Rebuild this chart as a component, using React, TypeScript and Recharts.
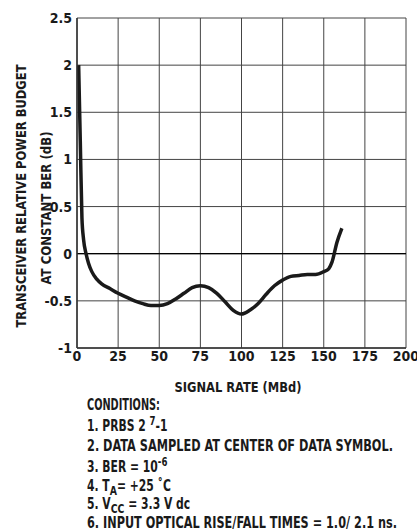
import { LineChart, Line, XAxis, YAxis, CartesianGrid, ReferenceLine } from "recharts";

const signalRate = [1, 2, 3, 4, 5.5, 7, 9, 12, 15, 20, 25, 30, 35, 40, 45, 50, 55, 60, 65, 70, 75, 80, 85, 90, 95, 100, 105, 110, 115, 120, 125, 130, 135, 140, 145, 150, 153, 155, 158, 161];
const powerBudget = [2.0, 1.19, 0.38, 0.15, 0.0, -0.1, -0.19, -0.27, -0.32, -0.37, -0.42, -0.46, -0.5, -0.53, -0.55, -0.55, -0.53, -0.48, -0.42, -0.36, -0.34, -0.36, -0.42, -0.51, -0.6, -0.64, -0.6, -0.53, -0.43, -0.34, -0.28, -0.24, -0.23, -0.22, -0.22, -0.19, -0.16, -0.09, 0.12, 0.27];
const xTicks = [0, 25, 50, 75, 100, 125, 150, 175, 200];
const yTicks = [-1, -0.5, 0, 0.5, 1, 1.5, 2, 2.5];

const data = signalRate.map((x, i) => ({ x, y: powerBudget[i] }));

const font = "'Liberation Sans Narrow', 'DejaVu Sans Condensed', 'Liberation Sans', sans-serif";
const tickStyle = { fontSize: 14, fontWeight: 700, fill: "#1a1a1a", fontFamily: font };
const sx = 0.8;

export default function App() {
  return (
    <div style={{ position: "relative", width: 417, height: 531, background: "#fff" }}>
      <style>{`body{margin:0}`}</style>
      <LineChart width={417} height={531} data={data} margin={{ top: 18, right: 11, left: 47, bottom: 163 }}>
        <CartesianGrid stroke="#444" strokeWidth={1} />
        <XAxis
          dataKey="x"
          type="number"
          domain={[0, 200]}
          ticks={xTicks}
          interval={0}
          height={20}
          tickSize={0}
          tickMargin={3}
          axisLine={{ stroke: "#333", strokeWidth: 1.5 }}
          tick={tickStyle}
          allowDataOverflow
        />
        <YAxis
          type="number"
          domain={[-1, 2.5]}
          ticks={yTicks}
          interval={0}
          width={30}
          tickSize={0}
          tickMargin={5}
          axisLine={{ stroke: "#333", strokeWidth: 1.5 }}
          tick={tickStyle}
        />
        <ReferenceLine y={0} stroke="#000" strokeWidth={1.2} />
        <Line type="monotone" dataKey="y" stroke="#1a1a1a" strokeWidth={3.5} dot={false} isAnimationActive={false} />
      </LineChart>
      <svg width={417} height={531} style={{ position: "absolute", left: 0, top: 0, pointerEvents: "none" }} fontFamily={font} fontWeight={700} fill="#1a1a1a">
        <text transform="translate(26,196) rotate(-90)" textAnchor="middle" fontSize={14} textLength={263} lengthAdjust="spacingAndGlyphs">TRANSCEIVER RELATIVE POWER BUDGET</text>
        <text transform="translate(51,208) rotate(-90)" textAnchor="middle" fontSize={14} textLength={153} lengthAdjust="spacingAndGlyphs">AT CONSTANT BER (dB)</text>
        <text x={238} y={392} textAnchor="middle" fontSize={14} textLength={127} lengthAdjust="spacingAndGlyphs">SIGNAL RATE (MBd)</text>
        <g transform={`translate(87,0) scale(${sx},1)`} fontSize={15}>
          <text x={0} y={410} textLength={73 / sx} lengthAdjust="spacingAndGlyphs">CONDITIONS:</text>
          <text x={0} y={431}>1. PRBS 2 <tspan dy={-6} fontSize={12}>7</tspan><tspan dy={6}>-1</tspan></text>
          <text x={0} y={451} textLength={306 / sx} lengthAdjust="spacingAndGlyphs">2. DATA SAMPLED AT CENTER OF DATA SYMBOL.</text>
          <text x={0} y={472}>3. BER = 10<tspan dy={-6} fontSize={12}>-6</tspan></text>
          <text x={0} y={491}>4. T<tspan dy={4} fontSize={13}>A</tspan><tspan dy={-4}>= +25 ˚C</tspan></text>
          <text x={0} y={509}>5. V<tspan dy={4} fontSize={13}>CC</tspan><tspan dy={-4}> = 3.3 V dc</tspan></text>
          <text x={0} y={528} textLength={310 / sx} lengthAdjust="spacingAndGlyphs">6. INPUT OPTICAL RISE/FALL TIMES = 1.0/ 2.1 ns.</text>
        </g>
      </svg>
    </div>
  );
}
